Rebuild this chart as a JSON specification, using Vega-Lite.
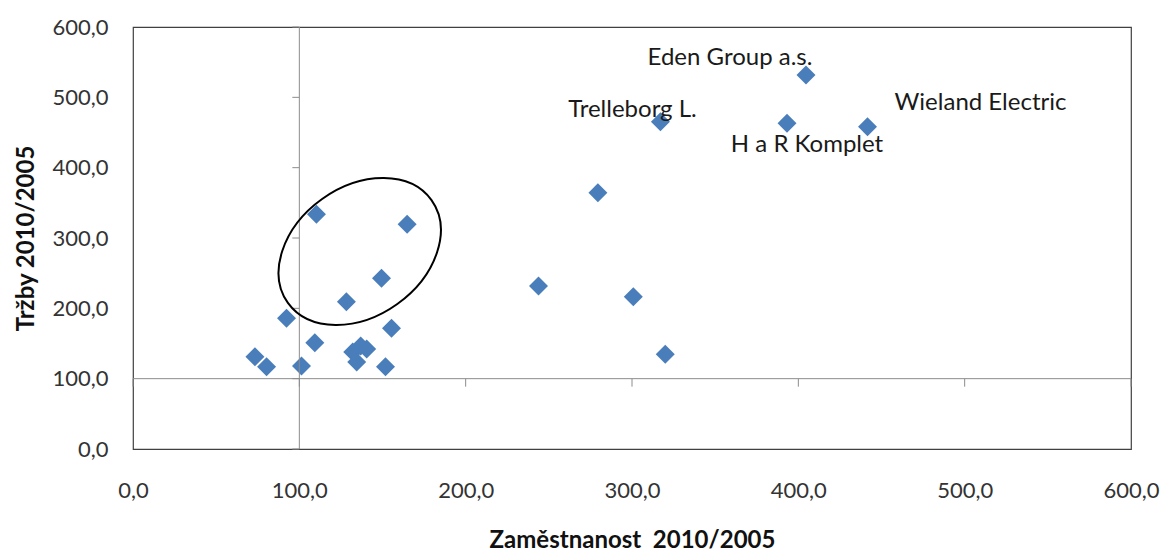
{
  "$schema": "https://vega.github.io/schema/vega-lite/v6.json",
  "width": 998,
  "height": 422,
  "autosize": {"type": "none"},
  "padding": {"left": 133, "top": 27, "right": 31, "bottom": 105},
  "background": "white",
  "config": {
    "view": {"stroke": "#404040", "strokeWidth": 1.2},
    "font": "Lato",
    "axis": {"grid": false}
  },
  "datasets": {
    "points": [
      {"x": 73.3, "y": 131.3},
      {"x": 80.3, "y": 117},
      {"x": 92.3, "y": 185.8},
      {"x": 101.3, "y": 118},
      {"x": 109.3, "y": 151.2},
      {"x": 110.3, "y": 333.7},
      {"x": 128.3, "y": 209.4},
      {"x": 132.1, "y": 137.9},
      {"x": 136.9, "y": 146.5},
      {"x": 140.5, "y": 142.2},
      {"x": 134.5, "y": 123.7},
      {"x": 149.4, "y": 242.7},
      {"x": 151.8, "y": 117},
      {"x": 155.4, "y": 171.6},
      {"x": 164.8, "y": 319.5},
      {"x": 243.8, "y": 231.8},
      {"x": 279.5, "y": 364.4},
      {"x": 300.8, "y": 216.5},
      {"x": 317.1, "y": 465.4, "name": "Trelleborg L."},
      {"x": 320, "y": 134.6},
      {"x": 393.2, "y": 463.1, "name": "H a R Komplet"},
      {"x": 404.6, "y": 531.8, "name": "Eden Group a.s."},
      {"x": 441.6, "y": 458.3, "name": "Wieland Electric"}
    ],
    "ticks": [{"v": 0}, {"v": 100}, {"v": 200}, {"v": 300}, {"v": 400}, {"v": 500}, {"v": 600}],
    "ellipse": [{"cx": 136.3, "cy": 280.8}]
  },
  "layer": [
    {
      "data": {"name": "points"},
      "mark": {"type": "point", "shape": "diamond", "filled": true, "size": 360, "color": "#4A7EBB", "opacity": 1},
      "encoding": {
        "x": {
          "field": "x", "type": "quantitative",
          "scale": {"domain": [0, 600], "nice": false},
          "axis": {
            "title": "Zaměstnanost\u00a0 2010/2005",
            "values": [0, 100, 200, 300, 400, 500, 600],
            "labelExpr": "replace(format(datum.value, '.1f'), '.', ',')",
            "domain": false, "ticks": false,
            "labelPadding": 31, "labelFontSize": 22, "labelColor": "#333333",
            "labelFlush": false, "labelOverlap": false,
            "titleFontSize": 24, "titleFontWeight": "bold", "titleColor": "#111111", "titlePadding": 27
          }
        },
        "y": {
          "field": "y", "type": "quantitative",
          "scale": {"domain": [0, 600], "nice": false},
          "axis": {
            "title": "Tržby 2010/2005",
            "values": [0, 100, 200, 300, 400, 500, 600],
            "labelExpr": "replace(format(datum.value, '.1f'), '.', ',')",
            "domain": false, "ticks": false,
            "labelPadding": 25, "labelFontSize": 22, "labelColor": "#333333",
            "labelFlush": false, "labelOverlap": false,
            "titleFontSize": 24, "titleFontWeight": "bold", "titleColor": "#111111", "titlePadding": 13
          }
        }
      }
    },
    {
      "data": {"values": [{"c": 100}]},
      "mark": {"type": "rule", "color": "#8c8c8c", "strokeWidth": 1},
      "encoding": {"y": {"field": "c", "type": "quantitative"}}
    },
    {
      "data": {"values": [{"c": 100}]},
      "mark": {"type": "rule", "color": "#8c8c8c", "strokeWidth": 1},
      "encoding": {"x": {"field": "c", "type": "quantitative"}}
    },
    {
      "data": {"name": "ticks"},
      "mark": {"type": "rule", "color": "#8c8c8c", "strokeWidth": 1, "y2Offset": 8},
      "encoding": {
        "x": {"field": "v", "type": "quantitative"},
        "y": {"datum": 100, "type": "quantitative"},
        "y2": {"datum": 100}
      }
    },
    {
      "data": {"name": "ticks"},
      "mark": {"type": "rule", "color": "#8c8c8c", "strokeWidth": 1, "x2Offset": -7},
      "encoding": {
        "y": {"field": "v", "type": "quantitative"},
        "x": {"datum": 100, "type": "quantitative"},
        "x2": {"datum": 100}
      }
    },
    {
      "data": {"name": "ellipse"},
      "mark": {
        "type": "point",
        "shape": "M -71.8 51.4 A 88.3 64.6 -35.6 1 1 71.8 -51.4 A 88.3 64.6 -35.6 1 1 -71.8 51.4 Z",
        "size": 4,
        "filled": false,
        "stroke": "#000000",
        "strokeWidth": 2,
        "opacity": 1
      },
      "encoding": {
        "x": {"field": "cx", "type": "quantitative"},
        "y": {"field": "cy", "type": "quantitative"}
      }
    },
    {
      "data": {"name": "points"},
      "transform": [{"filter": "datum.name == 'Eden Group a.s.'"}],
      "mark": {"type": "text", "fontSize": 24, "color": "#1a1a1a", "dx": -76, "dy": -17, "align": "center", "baseline": "middle"},
      "encoding": {
        "x": {"field": "x", "type": "quantitative"},
        "y": {"field": "y", "type": "quantitative"},
        "text": {"field": "name"}
      }
    },
    {
      "data": {"name": "points"},
      "transform": [{"filter": "datum.name == 'Trelleborg L.'"}],
      "mark": {"type": "text", "fontSize": 24, "color": "#1a1a1a", "dx": -28, "dy": -12, "align": "center", "baseline": "middle"},
      "encoding": {
        "x": {"field": "x", "type": "quantitative"},
        "y": {"field": "y", "type": "quantitative"},
        "text": {"field": "name"}
      }
    },
    {
      "data": {"name": "points"},
      "transform": [{"filter": "datum.name == 'H a R Komplet'"}],
      "mark": {"type": "text", "fontSize": 24, "color": "#1a1a1a", "dx": 20, "dy": 22, "align": "center", "baseline": "middle"},
      "encoding": {
        "x": {"field": "x", "type": "quantitative"},
        "y": {"field": "y", "type": "quantitative"},
        "text": {"field": "name"}
      }
    },
    {
      "data": {"name": "points"},
      "transform": [{"filter": "datum.name == 'Wieland Electric'"}],
      "mark": {"type": "text", "fontSize": 24, "color": "#1a1a1a", "dx": 113, "dy": -24, "align": "center", "baseline": "middle"},
      "encoding": {
        "x": {"field": "x", "type": "quantitative"},
        "y": {"field": "y", "type": "quantitative"},
        "text": {"field": "name"}
      }
    }
  ]
}
